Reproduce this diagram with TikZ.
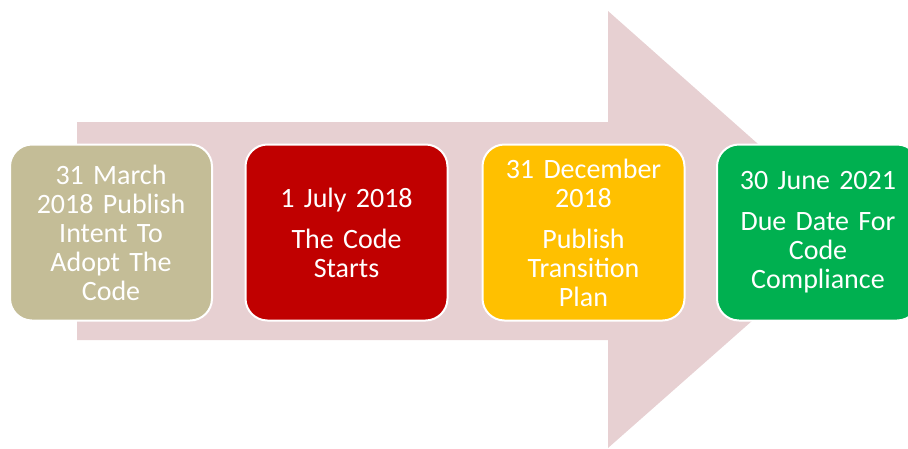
\documentclass[tikz,border=0pt]{standalone}
\usepackage{fontspec}
\setmainfont{Carlito}
\definecolor{arrowpink}{HTML}{E7D0D2}
\definecolor{stagetan}{HTML}{C4BD97}
\definecolor{stagered}{HTML}{C00000}
\definecolor{stagegold}{HTML}{FFC000}
\definecolor{stagegreen}{HTML}{00B050}
\tikzset{
  stagebox/.style={draw=white, line width=2pt, rounded corners=22pt,
    minimum width=202pt, minimum height=176pt, inner sep=0pt},
  stagetext/.style={text=white, align=center, text width=196pt, inner sep=0pt,
    font=\fontsize{28}{29}\selectfont}
}
\begin{document}
\begin{tikzpicture}[x=1pt,y=-1pt]
\useasboundingbox (0,0) rectangle (908,448);
\clip (0,0) rectangle (908,448);
\fill[arrowpink] (77,122) -- (608,122) -- (608,11) -- (855,230) -- (608,448) -- (608,340) -- (77,340) -- cycle;
\node[stagebox, fill=stagetan] (b1) at (111,232.5) {};
\node[stagebox, fill=stagered] (b2) at (346.5,232.5) {};
\node[stagebox, fill=stagegold] (b3) at (583.5,232.5) {};
\node[stagebox, fill=stagegreen] (b4) at (818,232.5) {};
\node[stagetext] (t1) at (b1.center) {31 March\\2018 Publish\\Intent To\\Adopt The\\Code};
\node[stagetext] (t2) at (b2.center) {1 July 2018\\[12pt]The Code\\Starts};
\node[stagetext] (t3) at (b3.center) {31 December\\2018\\[12pt]Publish\\Transition\\Plan};
\node[stagetext] (t4) at (b4.center) {30 June 2021\\[12pt]Due Date For\\Code\\Compliance};
\end{tikzpicture}
\end{document}
